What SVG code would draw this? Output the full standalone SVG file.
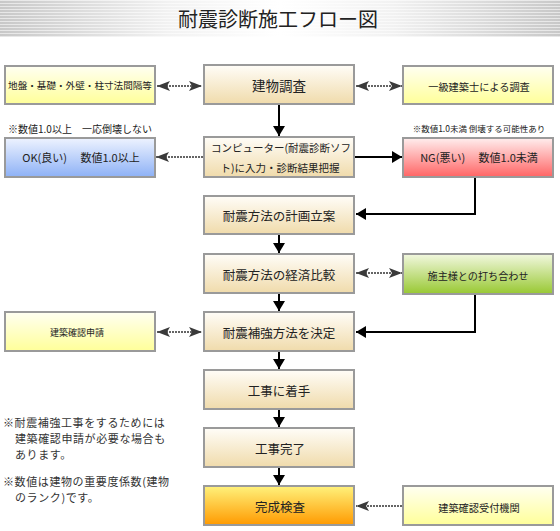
<svg xmlns="http://www.w3.org/2000/svg" width="560" height="531" viewBox="0 0 560 531">
<style>
text{font-family:"Noto Sans CJK JP","Noto Sans",sans-serif;fill:#222}
.box{stroke:#9a9a9a;stroke-width:2}
.main{fill:url(#gMain)}
.yel{fill:url(#gYel)}
.t{text-anchor:middle;dominant-baseline:central}
.solid{fill:none;stroke:#000;stroke-width:2;marker-end:url(#ah)}
.dot{fill:none;stroke:#333;stroke-width:1.5;stroke-dasharray:2 1}
.note{font-size:11px;fill:#333;letter-spacing:0.6px}
</style>
<defs>
<linearGradient id="gHead" x1="0" y1="0" x2="1" y2="0">
<stop offset="0" stop-color="#c8c8c8"/><stop offset="0.3" stop-color="#f2f2f2"/><stop offset="0.5" stop-color="#ffffff"/><stop offset="0.7" stop-color="#f2f2f2"/><stop offset="1" stop-color="#c8c8c8"/>
</linearGradient>
<pattern id="stripes" width="4" height="3" patternUnits="userSpaceOnUse"><rect width="4" height="1" fill="#ffffff" fill-opacity="0.55"/></pattern>
<linearGradient id="gMain" x1="0" y1="0" x2="0" y2="1"><stop offset="0" stop-color="#fffdf8"/><stop offset="1" stop-color="#f0dbab"/></linearGradient>
<linearGradient id="gYel" x1="0" y1="0" x2="0" y2="1"><stop offset="0" stop-color="#fffff2"/><stop offset="1" stop-color="#ffff99"/></linearGradient>
<linearGradient id="gBlue" x1="0" y1="0" x2="0" y2="1"><stop offset="0" stop-color="#eef3ff"/><stop offset="1" stop-color="#8db1f6"/></linearGradient>
<linearGradient id="gRed" x1="0" y1="0" x2="0" y2="1"><stop offset="0" stop-color="#ffeeee"/><stop offset="1" stop-color="#ff6464"/></linearGradient>
<linearGradient id="gGreen" x1="0" y1="0" x2="0" y2="1"><stop offset="0" stop-color="#f2f8e0"/><stop offset="1" stop-color="#98c832"/></linearGradient>
<linearGradient id="gOrange" x1="0" y1="0" x2="0" y2="1"><stop offset="0" stop-color="#fff27c"/><stop offset="1" stop-color="#ff9a00"/></linearGradient>
<marker id="ah" markerUnits="userSpaceOnUse" markerWidth="10" markerHeight="12" refX="10" refY="6" orient="auto"><path d="M0,0 L10,6 L0,12 z" fill="#000"/></marker>
<marker id="dh" markerUnits="userSpaceOnUse" markerWidth="13" markerHeight="10" refX="13" refY="5" orient="auto-start-reverse"><path d="M0,0 L13,5 L0,10 L3,5 z" fill="#3a3a3a"/></marker>
</defs>

<g id="header">
<rect x="0" y="0" width="560" height="37" fill="url(#gHead)"/>
<rect x="0" y="0" width="560" height="37" fill="url(#stripes)"/>
<text x="278" y="18" class="t" style="font-size:20px">耐震診断施工フロー図</text>
</g>

<g id="connectors">
<path class="dot" d="M157,86 H202" marker-start="url(#dh)" marker-end="url(#dh)"/>
<path class="dot" d="M356,86 H402" marker-start="url(#dh)" marker-end="url(#dh)"/>
<path class="solid" d="M279,105 V136"/>
<path class="dot" d="M203,157 H156" marker-end="url(#dh)"/>
<path class="solid" d="M355,157 H402"/>
<path class="solid" d="M475,178 V214 H356"/>
<path class="solid" d="M279,235 V253"/>
<path class="dot" d="M356,273 H402" marker-start="url(#dh)" marker-end="url(#dh)"/>
<path class="solid" d="M279,294 V311"/>
<path class="solid" d="M475,294 V332 H356"/>
<path class="dot" d="M157,332 H202" marker-start="url(#dh)" marker-end="url(#dh)"/>
<path class="solid" d="M279,352 V369"/>
<path class="solid" d="M279,410 V427"/>
<path class="solid" d="M279,468 V485"/>
<path class="dot" d="M402,506 H356" marker-end="url(#dh)"/>
</g>

<g id="n-survey"><rect class="box main" x="204" y="65" width="150" height="39"/><text class="t" x="279" y="85" style="font-size:13.5px">建物調査</text></g>
<g id="n-ground"><rect class="box yel" x="5" y="66" width="150" height="38"/><text class="t" x="80" y="85" style="font-size:9.6px">地盤・基礎・外壁・柱寸法間隔等</text></g>
<g id="n-architect"><rect class="box yel" x="403" y="66" width="150" height="38"/><text class="t" x="479" y="86" style="font-size:10.2px">一級建築士による調査</text></g>

<g id="n-computer"><rect class="box main" x="204" y="137" width="150" height="40"/><text class="t" x="281" y="147" style="font-size:10.5px">コンピューター(耐震診断ソフ</text><text class="t" x="280" y="167" style="font-size:10.5px">ト)に入力・診断結果把握</text></g>
<g id="n-ok"><text x="8" y="128" style="font-size:10px;dominant-baseline:central">※数値1.0以上　一応倒壊しない</text><rect class="box" fill="url(#gBlue)" x="5" y="138" width="150" height="39"/><text class="t" x="81" y="157" style="font-size:11px">OK(良い)　 数値1.0以上</text></g>
<g id="n-ng"><text class="t" x="479" y="128" style="font-size:8.5px">※数値1.0未満 倒壊する可能性あり</text><rect class="box" fill="url(#gRed)" x="403" y="138" width="150" height="39"/><text class="t" x="479" y="157" style="font-size:11px">NG(悪い)　 数値1.0未満</text></g>

<g id="n-plan"><rect class="box main" x="204" y="196" width="150" height="38"/><text class="t" x="279" y="215" style="font-size:12.5px">耐震方法の計画立案</text></g>
<g id="n-compare"><rect class="box main" x="204" y="254" width="150" height="39"/><text class="t" x="279" y="274" style="font-size:12.5px">耐震方法の経済比較</text></g>
<g id="n-owner"><rect class="box" fill="url(#gGreen)" x="403" y="254" width="150" height="40"/><text class="t" x="478" y="275" style="font-size:10.1px">施主様との打ち合わせ</text></g>
<g id="n-decide"><rect class="box main" x="204" y="312" width="150" height="39"/><text class="t" x="279" y="332" style="font-size:12.5px">耐震補強方法を決定</text></g>
<g id="n-permit"><rect class="box yel" x="5" y="312" width="150" height="39"/><text class="t" x="77" y="332" style="font-size:9px">建築確認申請</text></g>
<g id="n-start"><rect class="box main" x="204" y="370" width="150" height="39"/><text class="t" x="279" y="390" style="font-size:12.5px">工事に着手</text></g>
<g id="n-done"><rect class="box main" x="204" y="428" width="150" height="39"/><text class="t" x="280" y="448" style="font-size:12.5px">工事完了</text></g>
<g id="n-inspect"><rect class="box" fill="url(#gOrange)" x="204" y="486" width="150" height="39"/><text class="t" x="280" y="506" style="font-size:12.5px">完成検査</text></g>
<g id="n-agency"><rect class="box yel" x="403" y="486" width="150" height="39"/><text class="t" x="479" y="507" style="font-size:10.2px">建築確認受付機関</text></g>

<g id="notes">
<text class="note" x="3" y="426.5">※耐震補強工事をするためには</text>
<text class="note" x="15" y="442.5">建築確認申請が必要な場合も</text>
<text class="note" x="15" y="458.5">あります。</text>
<text class="note" x="3" y="485.5">※数値は建物の重要度係数(建物</text>
<text class="note" x="15" y="501.5">のランク)です。</text>
</g>
</svg>
